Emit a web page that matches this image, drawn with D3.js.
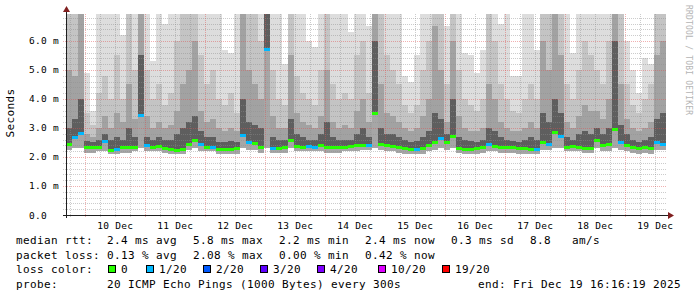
<!DOCTYPE html>
<html>
<head>
<meta charset="utf-8">
<script src="https://cdn.jsdelivr.net/npm/d3@7/dist/d3.min.js"></script>
<style>
body { margin: 0; background: #fff; }
text { font-family: "DejaVu Sans Mono", monospace; fill: #000; white-space: pre; }
</style>
</head>
<body>
<script>
// smokeping graph, last 10 days, one column = 2h24m (values in ms)
var med = [2.45,2.7,2.83,2.33,2.33,2.35,2.55,2.24,2.26,2.33,
           2.33,2.36,3.45,2.4,2.36,2.38,2.3,2.28,2.25,2.27,
           2.45,2.58,2.45,2.35,2.36,2.27,2.26,2.27,2.3,2.75,
           2.5,2.47,2.35,5.72,2.3,2.32,2.35,2.58,2.38,2.36,
           2.37,2.36,2.4,2.33,2.33,2.33,2.36,2.38,2.4,2.42,
           2.42,3.52,2.45,2.4,2.38,2.33,2.3,2.28,2.27,2.3,
           2.4,2.5,2.65,2.5,2.72,2.3,2.29,2.28,2.3,2.34,
           2.45,2.38,2.35,2.34,2.34,2.32,2.3,2.28,2.26,2.5,
           2.45,2.86,2.72,2.35,2.37,2.35,2.3,2.32,2.58,2.42,
           2.44,2.97,2.5,2.42,2.35,2.3,2.33,2.3,2.5,2.45];
// lost pings (of 20)
var loss = [0,1,1,0,0,0,1,0,1,0,
            0,0,1,1,0,0,0,0,0,0,
            0,0,1,0,1,0,0,0,0,1,
            1,0,0,1,1,0,0,0,0,0,
            1,1,0,0,0,0,0,0,0,0,
            1,0,0,0,0,0,0,0,1,0,
            0,0,1,0,0,0,0,0,0,0,
            1,0,0,0,0,0,0,0,1,0,
            1,0,1,0,0,0,0,0,0,0,
            0,0,1,0,0,0,0,0,1,1];
// smoke: lowest ping, then upper band edges, then highest ping (7 = off the top)
var lo = [2.25,2.3,2.3,2.15,2.15,2.2,2.2,2.1,2.1,2.15,
          2.15,2.2,2.3,2.2,2.2,2.2,2.15,2.1,2.1,2.1,
          2.25,2.3,2.2,2.2,2.2,2.1,2.1,2.1,2.1,2.3,
          2.25,2.25,2.15,2.3,2.15,2.15,2.15,2.3,2.2,2.2,
          2.2,2.2,2.2,2.15,2.15,2.15,2.2,2.2,2.2,2.25,
          2.25,2.3,2.25,2.2,2.2,2.15,2.1,2.1,2.1,2.1,
          2.2,2.25,2.3,2.25,2.3,2.15,2.1,2.1,2.1,2.15,
          2.2,2.2,2.15,2.15,2.15,2.1,2.1,2.1,2.1,2.25,
          2.25,2.3,2.3,2.2,2.2,2.2,2.15,2.15,2.3,2.2,
          2.2,2.3,2.25,2.2,2.15,2.1,2.15,2.1,2.25,2.25];
var q1 = [3.0,3.3,4.0,2.55,2.5,2.6,2.8,2.6,2.7,2.6,
          3.0,2.7,5.5,2.7,2.6,2.7,2.6,2.6,2.8,3.0,
          3.2,3.4,2.9,2.7,2.7,2.5,2.5,2.55,2.5,4.0,
          3.2,3.1,3.0,7,2.7,2.6,2.6,3.3,2.8,2.7,
          2.6,2.6,2.8,3.2,2.7,2.6,2.6,2.6,2.8,3.0,
          2.7,6.0,3.0,2.8,2.8,2.7,2.6,2.5,2.55,2.7,
          2.9,3.5,3.3,2.8,4.0,2.7,2.6,2.55,2.5,2.6,
          3.0,2.9,2.7,2.6,2.55,2.5,2.6,2.7,2.6,3.5,
          3.2,4.0,3.5,2.7,2.6,2.8,2.9,2.8,3.0,2.8,
          3.0,6.0,3.1,2.8,2.6,2.5,2.6,2.7,3.3,3.5];
var q2 = [5.0,4.8,7,2.8,2.7,3.0,3.4,3.0,3.5,3.2,
          4.5,3.3,7,3.4,3.0,3.2,3.0,3.1,3.6,4.5,
          5.0,6.0,3.6,3.2,3.3,3.0,2.9,3.0,2.9,7,
          5.0,4.5,4.0,7,3.4,3.0,3.0,5.5,3.5,3.2,
          3.1,3.0,3.4,5.0,3.2,3.0,3.1,3.0,3.6,4.0,
          3.2,7,4.5,3.5,3.4,3.2,3.0,2.9,3.0,3.4,
          4.0,6.5,5.0,3.2,6.0,3.4,3.0,2.9,2.9,3.0,
          4.5,4.0,3.2,3.0,2.9,2.9,3.0,3.2,3.0,6.0,
          5.0,7,5.5,3.2,3.0,3.4,3.8,3.6,3.6,3.3,
          4.0,7,4.5,3.3,3.0,2.9,3.0,3.2,5.5,6.0];
var q3 = [7,7,7,3.5,3.1,4.2,4.8,4.0,5.5,4.0,
          7,5.0,7,5.0,4.0,4.5,3.8,4.2,6.0,7,
          7,7,5.5,4.5,5.0,4.0,3.8,4.2,3.5,7,
          7,7,6.0,7,5.0,4.0,3.8,7,4.8,4.2,
          4.0,3.8,5.0,7,4.5,4.0,4.2,4.0,5.5,6.0,
          4.2,7,7,5.5,5.0,4.5,3.8,3.5,3.8,5.0,
          6.0,7,7,4.5,7,5.0,4.0,3.8,3.6,4.0,
          7,6.0,4.5,4.0,3.6,3.5,4.0,4.5,4.0,7,
          7,7,7,4.5,4.0,5.0,6.0,5.5,5.0,4.5,
          6.0,7,7,4.5,3.8,3.5,4.0,4.5,7,7];
var hi = [7,7,7,4.9,3.6,7,7,7,7,6.2,
          7,7,7,7,5.3,7,6.6,7,7,7,
          7,7,7,7,7,7,5.7,5.6,7,7,
          7,7,7,7,7,7,5.2,7,7,7,
          6.0,5.8,7,7,7,7,7,6.3,7,7,
          6.5,7,7,7,7,7,4.8,4.6,5.5,7,
          7,7,7,6.5,7,7,5.6,5.5,4.9,5.7,
          7,7,6.6,7,4.8,4.8,7,7,5.7,7,
          7,7,7,7,5.6,7,7,7,7,7,
          7,7,7,6.0,5.0,4.2,5.4,5.2,7,7];

var yTicks = [0, 1, 2, 3, 4, 5, 6];
var lossSteps = ["0", "1/20", "2/20", "3/20", "4/20", "10/20", "19/20"];
var lossColors = ["#26ff00", "#00b8ff", "#0059ff", "#5e00ff", "#7e00ff", "#dd00ff", "#ff0000"];
var rttLine = ["2.4 ms avg", "5.8 ms max", "2.2 ms min", "2.4 ms now", "0.3 ms sd", "8.8   am/s"];
var lossLine = ["0.13 % avg", "2.08 % max", "0.00 % min", "0.42 % now"];
var probeText = "20 ICMP Echo Pings (1000 Bytes) every 300s";
var endText = "end: Fri Dec 19 16:16:19 2025";

var W = 697, H = 297;
var plotL = 66, plotR = 666, plotT = 14, plotB = 215;
var t0 = new Date(Date.UTC(2025, 11, 9, 16, 16, 19));
var t1 = new Date(Date.UTC(2025, 11, 19, 16, 16, 19));
var colMinutes = 144;

var x = d3.scaleUtc().domain([t0, t1]).range([plotL, plotR]);
var y = d3.scaleLinear().domain([0, 6.931]).range([plotB, plotT]);

var svg = d3.select("body").append("svg")
    .attr("width", W).attr("height", H)
    .style("display", "block");

svg.append("clipPath").attr("id", "plot")
  .append("rect").attr("x", plotL).attr("y", plotT)
    .attr("width", plotR - plotL).attr("height", plotB - plotT);

var cols = med.map(function(m, i) {
  var a = d3.utcMinute.offset(t0, i * colMinutes);
  var b = d3.utcMinute.offset(t0, (i + 1) * colMinutes);
  return {a: a, b: b, med: m, loss: loss[i], lo: lo[i], q1: q1[i], q2: q2[i], q3: q3[i], hi: hi[i]};
});

// smoke
var bands = [
  {from: "lo", to: "med", color: "#a6a6a6"},
  {from: "med", to: "q1", color: "#5e5e5e"},
  {from: "q1", to: "q2", color: "#a2a2a2"},
  {from: "q2", to: "q3", color: "#c4c4c4"},
  {from: "q3", to: "hi", color: "#dddddd"}
];
var smoke = svg.append("g").attr("clip-path", "url(#plot)");
bands.forEach(function(bd) {
  smoke.selectAll(null).data(cols).enter().append("rect")
    .attr("x", function(d) { return x(d.a); })
    .attr("width", function(d) { return x(d.b) - x(d.a); })
    .attr("y", function(d) { return y(Math.max(d[bd.from], d[bd.to])); })
    .attr("height", function(d) { return Math.abs(y(d[bd.from]) - y(d[bd.to])); })
    .attr("fill", bd.color)
    .attr("shape-rendering", "crispEdges");
});

// grid
var minorCol = "rgba(143,143,143,0.45)", majorCol = "rgba(222,79,79,0.45)";
var grid = svg.append("g").attr("shape-rendering", "crispEdges").attr("stroke-dasharray", "1,1");
var minorY = d3.range(0, 6.9, 0.2).filter(function(v) { return Math.abs(v - Math.round(v)) > 0.01; });
grid.selectAll(null).data(minorY).enter().append("line")
  .attr("x1", plotL - 3).attr("x2", plotR)
  .attr("y1", function(d) { return Math.round(y(d)) + 0.5; })
  .attr("y2", function(d) { return Math.round(y(d)) + 0.5; })
  .attr("stroke", minorCol);
var minorX = d3.utcHour.every(6).range(t0, t1).filter(function(d) { return d.getUTCHours() !== 0; });
grid.selectAll(null).data(minorX).enter().append("line")
  .attr("y1", plotT).attr("y2", plotB + 3)
  .attr("x1", function(d) { return Math.round(x(d)) + 0.5; })
  .attr("x2", function(d) { return Math.round(x(d)) + 0.5; })
  .attr("stroke", minorCol);
grid.selectAll(null).data(yTicks.slice(1)).enter().append("line")
  .attr("x1", plotL - 3).attr("x2", plotR)
  .attr("y1", function(d) { return Math.round(y(d)) + 0.5; })
  .attr("y2", function(d) { return Math.round(y(d)) + 0.5; })
  .attr("stroke", majorCol);
var days = d3.utcDay.range(t0, t1);
grid.selectAll(null).data(days).enter().append("line")
  .attr("y1", plotT).attr("y2", plotB + 3)
  .attr("x1", function(d) { return Math.round(x(d)) + 0.5; })
  .attr("x2", function(d) { return Math.round(x(d)) + 0.5; })
  .attr("stroke", majorCol);

// median, coloured by loss
function lossColor(n) {
  if (n >= 19) return lossColors[6];
  if (n >= 10) return lossColors[5];
  if (n >= 4) return lossColors[4];
  return lossColors[n];
}
svg.append("g").attr("clip-path", "url(#plot)")
  .selectAll("rect").data(cols).enter().append("rect")
    .attr("x", function(d) { return x(d.a); })
    .attr("width", function(d) { return x(d.b) - x(d.a); })
    .attr("y", function(d) { return Math.round(y(d.med)) - 1; })
    .attr("height", 3)
    .attr("fill", function(d) { return lossColor(d.loss); })
    .attr("shape-rendering", "crispEdges");

// axes + arrows
var axCol = "#1f1f1f", arrowCol = "#801f1f";
svg.append("line").attr("x1", plotL - 3).attr("x2", plotR + 4)
  .attr("y1", plotB + 0.5).attr("y2", plotB + 0.5).attr("stroke", axCol);
svg.append("line").attr("x1", plotL + 0.5).attr("x2", plotL + 0.5)
  .attr("y1", plotB + 3).attr("y2", plotT - 3).attr("stroke", axCol);
svg.append("path").attr("d", "M" + (plotR + 2) + "," + (plotB - 3) + "L" + (plotR + 8) + "," + (plotB + 0.5) + "L" + (plotR + 2) + "," + (plotB + 4) + "Z")
  .attr("fill", arrowCol);
svg.append("path").attr("d", "M" + (plotL - 3) + "," + (plotT - 2) + "L" + (plotL + 0.5) + "," + (plotT - 8) + "L" + (plotL + 4) + "," + (plotT - 2) + "Z")
  .attr("fill", arrowCol);

// tick labels
svg.selectAll(".ylab").data(yTicks).enter().append("text")
  .attr("x", 29).attr("y", function(d) { return y(d) + 3.5; })
  .style("font-size", "9.5px").style("letter-spacing", "0.28px")
  .text(function(d) { return d === 0 ? "0.0" : d.toFixed(1) + " m"; });
svg.selectAll(".xlab").data(days).enter().append("text")
  .attr("x", function(d) { return x(d3.utcHour.offset(d, 12)); })
  .attr("y", 228.5).attr("text-anchor", "middle")
  .style("font-size", "9.5px").style("letter-spacing", "0.28px")
  .text(d3.utcFormat("%d %b"));

svg.append("text").attr("transform", "translate(14,113) rotate(-90)")
  .attr("text-anchor", "middle").style("font-size", "11px").style("letter-spacing", "0.38px")
  .text("Seconds");
svg.append("text").attr("transform", "translate(686,5) rotate(90)")
  .style("font-size", "8px").style("letter-spacing", "0.2px").style("fill", "#b4b4b4")
  .text("RRDTOOL / TOBI OETIKER");

// legend
var cw = 7, gap = 16, valX = 107;
var rows = [244, 258.5, 273, 287.5];
var leg = svg.append("g").style("font-size", "11px").style("letter-spacing", "0.38px");
function row(label, items, yy) {
  leg.append("text").attr("x", 16).attr("y", yy).text(label);
  var xx = valX;
  items.forEach(function(s) {
    leg.append("text").attr("x", xx).attr("y", yy).text(s);
    xx += s.length * cw + gap;
  });
}
row("median rtt:", rttLine, rows[0]);
row("packet loss:", lossLine, rows[1]);
row("probe:", [probeText], rows[3]);
leg.append("text").attr("x", 16).attr("y", rows[2]).text("loss color:");
var boxX = [108, 146, 203, 260, 317, 378, 442];
lossSteps.forEach(function(s, i) {
  leg.append("rect").attr("x", boxX[i] + 0.5).attr("y", rows[2] - 7.5).attr("width", 7).attr("height", 7)
    .attr("fill", lossColors[i]).attr("stroke", "#000").attr("stroke-width", 1);
  leg.append("text").attr("x", boxX[i] + 13).attr("y", rows[2]).text(s);
});
leg.append("text").attr("x", 681).attr("y", rows[3]).attr("text-anchor", "end").text(endText);
</script>
</body>
</html>
